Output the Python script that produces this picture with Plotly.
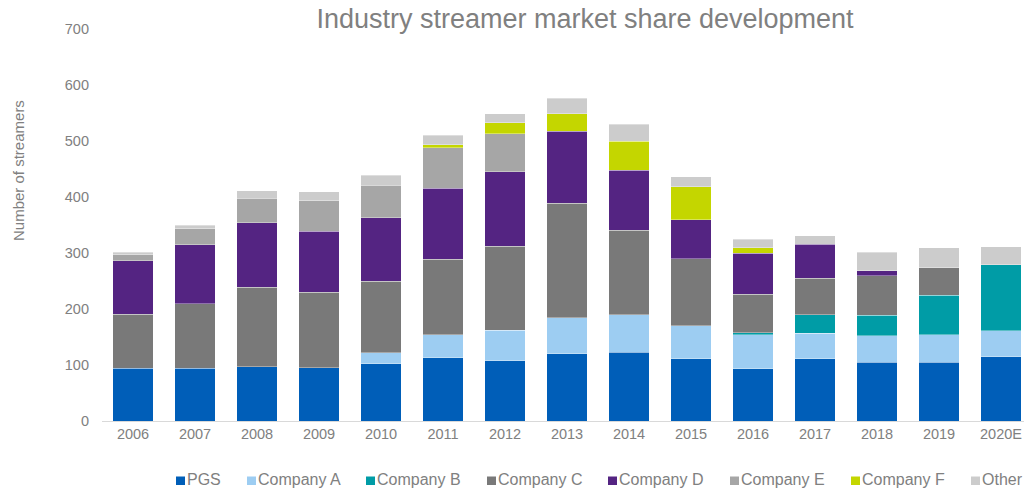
import plotly.graph_objects as go

# Streamer counts per owner, stacked per year
years = ["2006", "2007", "2008", "2009", "2010", "2011", "2012", "2013",
         "2014", "2015", "2016", "2017", "2018", "2019", "2020E"]
pgs = [94, 94, 97, 95, 102, 113, 108, 120, 123, 111, 93, 111, 105, 105, 115]
company_a = [0, 0, 0, 0, 20, 41, 54, 64, 67, 59, 61, 46, 47, 49, 46]
company_b = [0, 0, 0, 0, 0, 0, 0, 0, 0, 0, 4, 33, 37, 71, 118]
company_c = [97, 115, 142, 135, 128, 135, 150, 205, 151, 120, 68, 65, 70, 49, 0]
company_d = [95, 106, 115, 109, 113, 127, 133, 128, 107, 69, 74, 61, 9, 0, 0]
company_e = [11, 28, 44, 54, 58, 72, 68, 0, 0, 0, 0, 0, 0, 0, 0]
company_f = [0, 0, 0, 0, 0, 5, 20, 32, 52, 59, 9, 0, 0, 0, 0]
other = [4, 7, 13, 16, 18, 17, 16, 27, 30, 18, 16, 15, 33, 35, 32]

series_names = ["PGS", "Company A", "Company B", "Company C",
                "Company D", "Company E", "Company F", "Other"]
series_values = [pgs, company_a, company_b, company_c,
                 company_d, company_e, company_f, other]
series_colors = ["#005EB8", "#9DCDF2", "#009CA6", "#797979",
                 "#542482", "#A6A6A6", "#C4D600", "#CCCCCC"]

# Page geometry (pixels)
W, H = 1024, 488
ML, MR, MT, MB = 102, 0, 29, 67
PW, PH = W - ML - MR, H - MT - MB
CAT_PX = 62  # width of one year slot


def px_x(px):
    return (px - ML) / PW


def px_y(py):
    return (H - MB - py) / PH


TEXT_GREY = "#808080"
FONT = "Liberation Sans, Arial, sans-serif"

fig = go.Figure()
for name, vals, color in zip(series_names, series_values, series_colors):
    fig.add_trace(go.Bar(
        x=years,
        y=[v if v else None for v in vals],
        name=name,
        marker=dict(color=color, line=dict(color="rgba(255,255,255,0.7)", width=0.5)),
        showlegend=False,
    ))

# Legend row below the axis: swatch + label per series
legend_left_px = [176, 247, 366, 487, 608, 730, 851, 971]
shapes = []
annotations = []
for name, color, lx in zip(series_names, series_colors, legend_left_px):
    shapes.append(dict(
        type="rect", xref="paper", yref="paper",
        x0=px_x(lx), x1=px_x(lx + 9), y0=px_y(485), y1=px_y(476.5),
        fillcolor=color, line=dict(width=0),
    ))
    annotations.append(dict(
        text=name, xref="paper", yref="paper",
        x=px_x(lx + 9), y=px_y(479.5), xanchor="left", yanchor="middle",
        showarrow=False, font=dict(family=FONT, size=16, color=TEXT_GREY),
    ))

# Vertical axis title
annotations.append(dict(
    text="Number of streamers", xref="paper", yref="paper",
    x=px_x(18), y=px_y(171), xanchor="center", yanchor="middle",
    textangle=-90, showarrow=False,
    font=dict(family=FONT, size=15, color=TEXT_GREY),
))

fig.update_layout(
    width=W, height=H,
    margin=dict(l=ML, r=MR, t=MT, b=MB, pad=0),
    barmode="stack",
    bargap=0.34,
    paper_bgcolor="white",
    plot_bgcolor="white",
    font=dict(family=FONT, color=TEXT_GREY),
    title=dict(
        text="Industry streamer market share development",
        x=585 / W, xanchor="center", xref="container",
        y=1 - 19 / H, yanchor="middle", yref="container",
        font=dict(family=FONT, size=27, color=TEXT_GREY),
    ),
    xaxis=dict(
        type="category",
        range=[-0.5, -0.5 + PW / CAT_PX],
        showgrid=False, zeroline=False,
        showline=True, linecolor="#D9D9D9", linewidth=1,
        ticks="",
        tickfont=dict(family=FONT, size=14.5, color=TEXT_GREY),
    ),
    yaxis=dict(
        range=[0, 700], dtick=100, tick0=0,
        showgrid=False, zeroline=False, showline=False,
        ticks="",
        ticklabelstandoff=12,
        tickfont=dict(family=FONT, size=14.5, color=TEXT_GREY),
    ),
    shapes=shapes,
    annotations=annotations,
)

fig.write_html("out.html")
